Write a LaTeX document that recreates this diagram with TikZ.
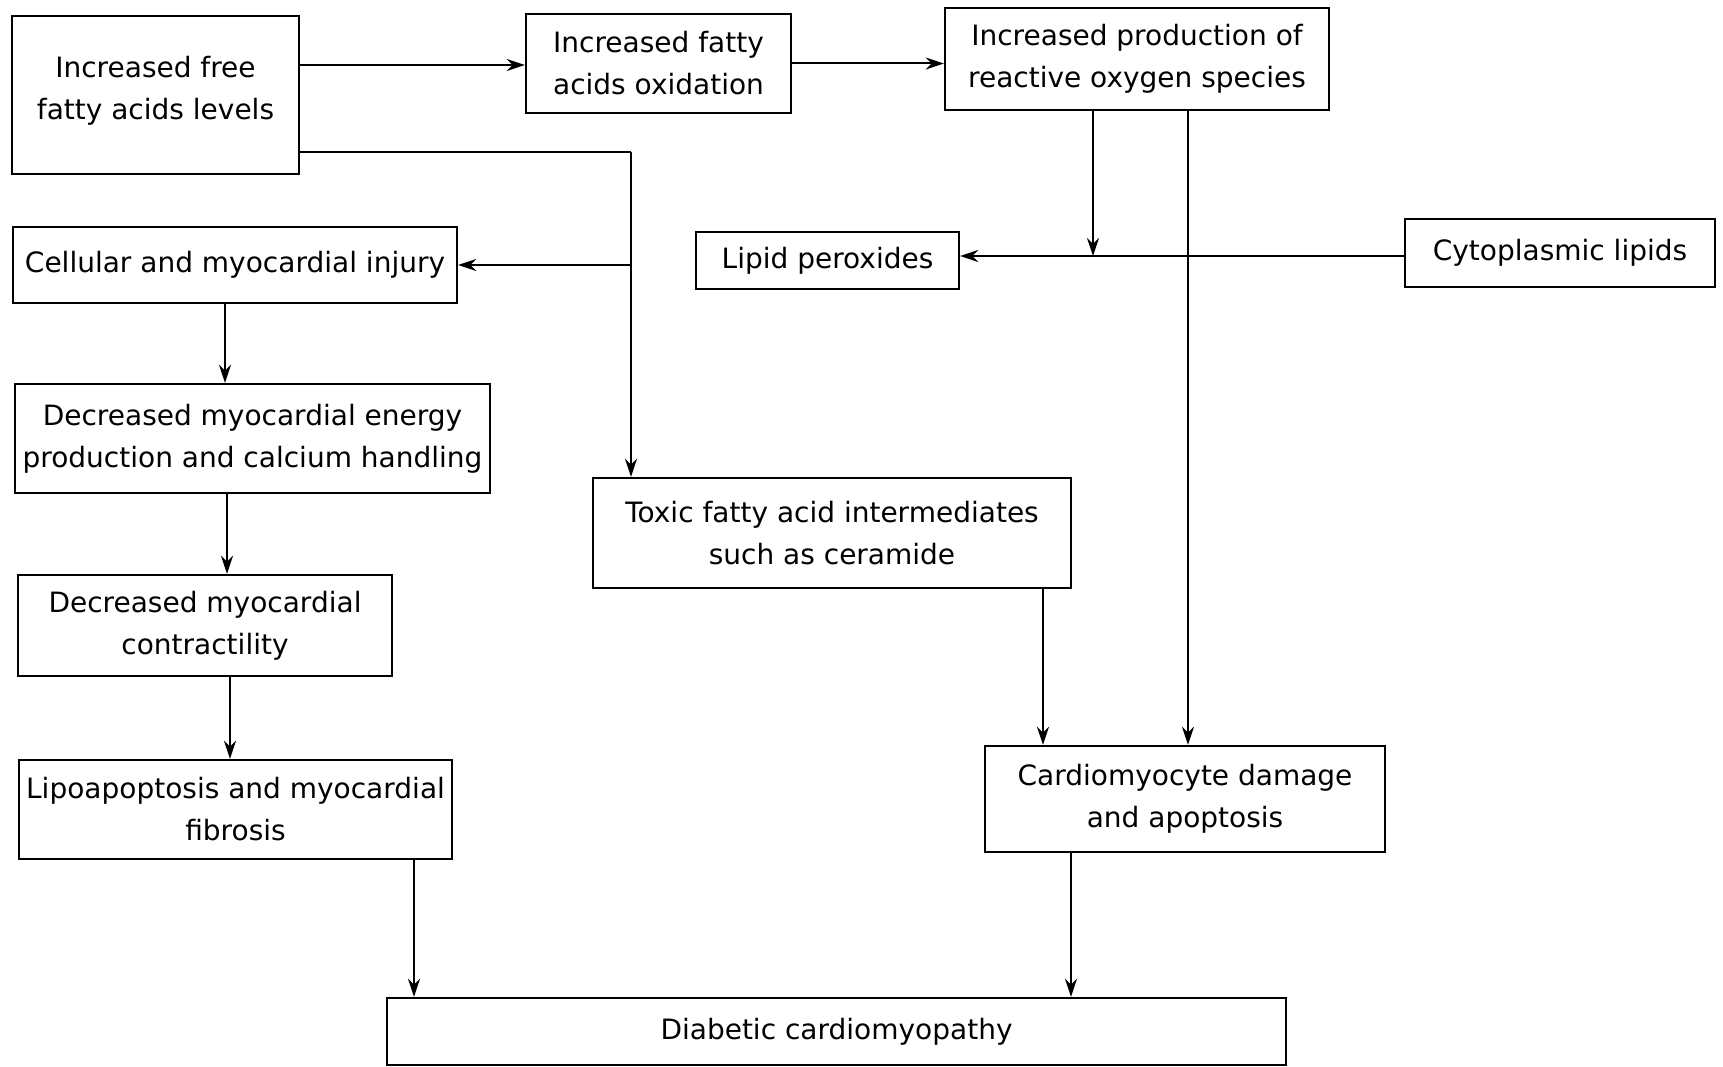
\documentclass[tikz,border=0pt]{standalone}
\usepackage{fontspec}
\setmainfont{DejaVu Sans}
\usetikzlibrary{arrows.meta,calc}
\begin{document}
\begin{tikzpicture}[x=1pt,y=-1pt,
  box/.style={draw=black,line width=2.4pt,rectangle,align=center,inner sep=0pt,
    font=\fontsize{28}{42}\selectfont},
  arr/.style={line width=2pt,-{Stealth[length=18pt,width=12pt]}},
  ln/.style={line width=2pt}]
\useasboundingbox[fill=white] (0,0) rectangle (1723,1067);
% nodes (center, width, height in px)
\node[box,minimum width=287pt,minimum height=158pt] (ffa) at (155.5,95) {Increased free\\fatty acids levels\rule[-14pt]{0pt}{1pt}};
\node[box,minimum width=265pt,minimum height=99pt] (oxid) at (658.5,63.5) {Increased fatty\\acids oxidation};
\node[box,minimum width=384pt,minimum height=102pt] (ros) at (1137,59) {Increased production of\\reactive oxygen species};
\node[box,minimum width=444pt,minimum height=76pt] (cell) at (235,265) {Cellular and myocardial injury};
\node[box,minimum width=263pt,minimum height=57pt] (lip) at (827.5,260.5) {Lipid peroxides};
\node[box,minimum width=310pt,minimum height=68pt] (cyto) at (1560,253) {Cytoplasmic lipids};
\node[box,minimum width=475pt,minimum height=109pt] (energy) at (252.5,438.5) {Decreased myocardial energy\\production and calcium handling};
\node[box,minimum width=478pt,minimum height=110pt] (toxic) at (832,533) {Toxic fatty acid intermediates\\such as ceramide};
\node[box,minimum width=374pt,minimum height=101pt] (contr) at (205,625.5) {Decreased myocardial\\contractility};
\node[box,minimum width=433pt,minimum height=99pt] (lipo) at (235.5,809.5) {Lipoapoptosis and myocardial\\fibrosis};
\node[box,minimum width=400pt,minimum height=106pt] (cardio) at (1185,799) {Cardiomyocyte damage\\and apoptosis};
\node[box,minimum width=899pt,minimum height=67pt] (diab) at (836.5,1031.5) {Diabetic cardiomyopathy};
% junction coordinates
\coordinate (a1) at (0,65);
\coordinate (j1) at (631,152);
\coordinate (j2) at (1093,256);
\coordinate (j3) at (1188,0);
\coordinate (j4) at (1043,0);
\coordinate (c1) at (225,0);
\coordinate (c2) at (227,0);
\coordinate (c3) at (230,0);
\coordinate (c4) at (414,0);
\coordinate (c5) at (1071,0);
% connectors
\draw[arr] (ffa.east |- a1) -- (oxid.west |- a1);
\draw[arr] (oxid.east) -- (oxid.east -| ros.west);
\draw[ln] (ffa.east |- j1) -- (j1);
\draw[arr] (j1) -- (j1 |- toxic.north);
\draw[arr] (j1 |- cell.east) -- (cell.east);
\draw[arr] (j2 |- ros.south) -- (j2);
\draw[arr] (j2 -| cyto.west) -- (j2 -| lip.east);
\draw[arr] (j3 |- ros.south) -- (j3 |- cardio.north);
\draw[arr] (j4 |- toxic.south) -- (j4 |- cardio.north);
\draw[arr] (c1 |- cell.south) -- (c1 |- energy.north);
\draw[arr] (c2 |- energy.south) -- (c2 |- contr.north);
\draw[arr] (c3 |- contr.south) -- (c3 |- lipo.north);
\draw[arr] (c4 |- lipo.south) -- (c4 |- diab.north);
\draw[arr] (c5 |- cardio.south) -- (c5 |- diab.north);
\end{tikzpicture}
\end{document}
